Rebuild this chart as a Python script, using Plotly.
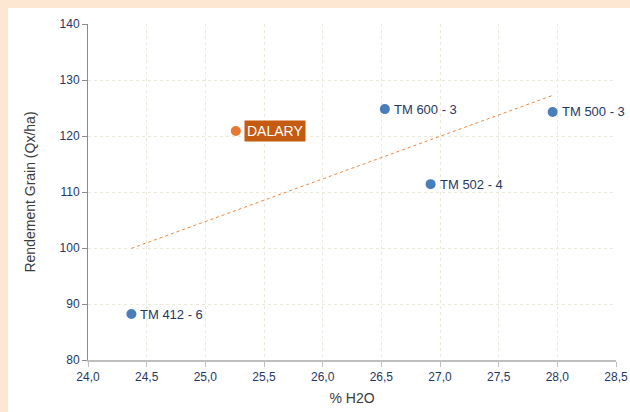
import numpy as np
import plotly.graph_objects as go

names = ["TM 412 - 6", "DALARY", "TM 600 - 3", "TM 502 - 4", "TM 500 - 3"]
h2o = [24.37, 25.26, 26.53, 26.92, 27.96]
rendement = [88.2, 120.9, 124.8, 111.4, 124.3]
highlight = "DALARY"

x_ticks = [24.0, 24.5, 25.0, 25.5, 26.0, 26.5, 27.0, 27.5, 28.0, 28.5]
y_ticks = [80, 90, 100, 110, 120, 130, 140]

# linear trendline from data
slope, intercept = np.polyfit(h2o, rendement, 1)
tx = [min(h2o), max(h2o)]
ty = [slope * v + intercept for v in tx]

W, H = 630, 412
ml, mr, mt, mb = 88, 14, 24, 52
pw, ph = W - ml - mr, H - mt - mb

fig = go.Figure()

fig.add_trace(go.Scatter(x=tx, y=ty, mode="lines",
                         line=dict(color="#F08436", width=1, dash="dot"),
                         hoverinfo="skip", showlegend=False))

colors = ["#E8782F" if n == highlight else "#4A7EBB" for n in names]
fig.add_trace(go.Scatter(x=h2o, y=rendement, mode="markers",
                         marker=dict(color=colors, size=10),
                         showlegend=False))

for n, xv, yv in zip(names, h2o, rendement):
    if n == highlight:
        fig.add_annotation(x=xv, y=yv, text=n, showarrow=False, xanchor="left",
                           xshift=8, font=dict(family="Liberation Sans, Arial", size=14, color="white"),
                           bgcolor="#C55A11", borderpad=2)
    else:
        fig.add_annotation(x=xv, y=yv, text=n, showarrow=False, xanchor="left",
                           xshift=7,
                           font=dict(family="Liberation Sans, Arial", size=13, color="#1F3864"))

# peach frame on top and left edges
fig.add_shape(type="rect", xref="paper", yref="paper", layer="below",
              x0=-ml / pw, x1=(W - ml) / pw,
              y0=(ph + mt - 8) / ph, y1=(ph + mt) / ph,
              fillcolor="#FDE6D2", line=dict(width=0))
fig.add_shape(type="rect", xref="paper", yref="paper", layer="below",
              x0=-ml / pw, x1=(8 - ml) / pw,
              y0=-mb / ph, y1=(ph + mt) / ph,
              fillcolor="#FDE6D2", line=dict(width=0))

tickfont = dict(family="Liberation Sans, Arial", size=12, color="#1F3864")
titlefont = dict(family="Liberation Sans, Arial", size=14, color="#3A3A3A")

fig.update_xaxes(range=[24.0, 28.5], tickvals=x_ticks, tickformat=".1f",
                 showgrid=True, gridcolor="#ECE9DA", griddash="dot", gridwidth=1,
                 showline=True, linecolor="#BFBFBF", linewidth=2,
                 ticks="outside", ticklen=5, tickcolor="#BFBFBF",
                 tickfont=tickfont, zeroline=False, automargin=False,
                 title=dict(text="% H2O", font=titlefont, standoff=10))
fig.update_yaxes(range=[80, 140], tickvals=y_ticks,
                 showgrid=True, gridcolor="#ECE9DA", griddash="dot", gridwidth=1,
                 showline=True, linecolor="#8C8C8C", linewidth=1,
                 ticks="outside", ticklen=5, tickcolor="#8C8C8C",
                 tickfont=tickfont, zeroline=False, automargin=False,
                 title=dict(text="Rendement Grain (Qx/ha)", font=titlefont, standoff=20))

fig.update_layout(width=W, height=H, margin=dict(l=ml, r=mr, t=mt, b=mb),
                  paper_bgcolor="white", plot_bgcolor="rgba(0,0,0,0)",
                  separators=",.", showlegend=False)

fig.write_html("out.html", config={"displayModeBar": False},
               post_script="document.body.style.margin='0';document.body.style.overflow='hidden';")
